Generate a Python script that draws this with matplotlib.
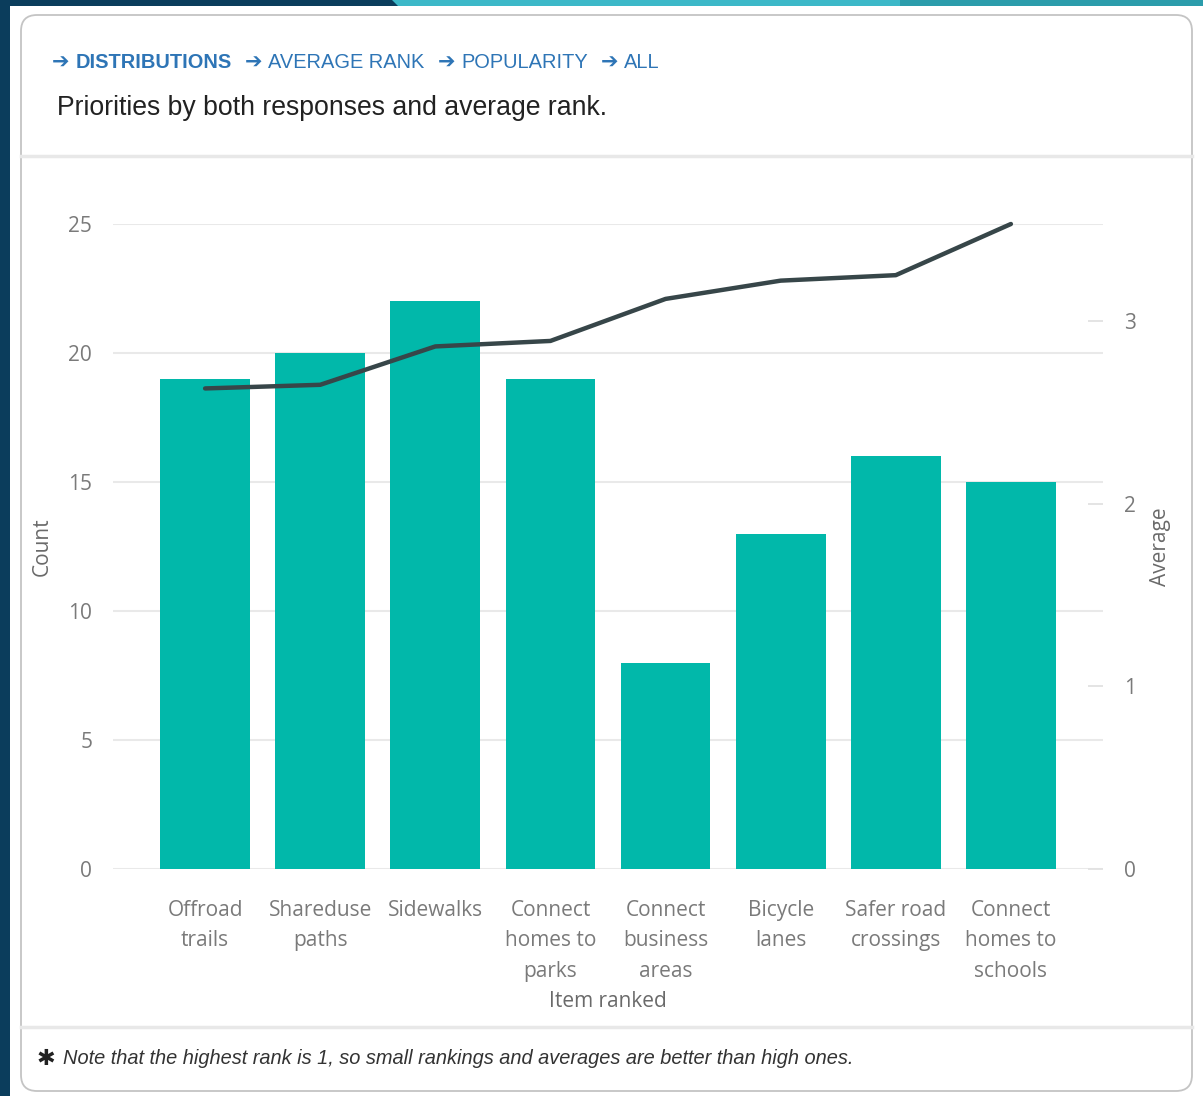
import numpy as np
import matplotlib
matplotlib.use('Agg')
import matplotlib.pyplot as plt
from matplotlib.patches import FancyBboxPatch, Rectangle, Polygon

# chart data
items = ['Offroad\ntrails', 'Shareduse\npaths', 'Sidewalks', 'Connect\nhomes to\nparks',
         'Connect\nbusiness\nareas', 'Bicycle\nlanes', 'Safer road\ncrossings',
         'Connect\nhomes to\nschools']
counts = [19, 20, 22, 19, 8, 13, 16, 15]
avg_rank = [2.63, 2.65, 2.86, 2.89, 3.12, 3.22, 3.25, 3.53]
count_ticks = [0, 5, 10, 15, 20, 25]
avg_ticks = [0, 1, 2, 3]
crumbs = ['DISTRIBUTIONS', 'AVERAGE RANK', 'POPULARITY', 'ALL']
title = 'Priorities by both responses and average rank.'
note = 'Note that the highest rank is 1, so small rankings and averages are better than high ones.'

W, H = 1203, 1096
teal = '#01b8aa'
linec = '#374649'
grey_txt = '#7a7a7a'
navy = '#0b3d5c'
blue = '#2e75b6'
sans = ['Open Sans', 'DejaVu Sans']
arial = ['Liberation Sans', 'DejaVu Sans']

fig = plt.figure(figsize=(W/100, H/100), dpi=100)
fig.patch.set_facecolor('white')

# background / card drawn in pixel units
bg = fig.add_axes([0, 0, 1, 1], zorder=0)
bg.set_xlim(0, W)
bg.set_ylim(H, 0)
bg.axis('off')
bg.add_patch(Rectangle((0, 0), 10, H, color=navy, lw=0))
bg.add_patch(Rectangle((0, 0), 400, 6, color=navy, lw=0))
bg.add_patch(Polygon([[392, 0], [1203, 0], [1203, 6], [398, 6]], closed=True, color='#3cb8c8', lw=0))
bg.add_patch(Polygon([[900, 0], [1203, 0], [1203, 6], [900, 6]], closed=True, color='#2b9cab', lw=0))
card = FancyBboxPatch((21, 15), 1171, 1076, boxstyle='round,pad=0,rounding_size=16',
                      facecolor='white', edgecolor='#c4c4c4', lw=1.3)
bg.add_patch(card)
bg.plot([21, 1192], [156, 156], color='#e8e8e8', lw=2.5)
bg.plot([21, 1192], [1027, 1027], color='#e8e8e8', lw=2.5)

# breadcrumbs
arrow_x = [52, 245, 438, 601]
text_x = [76, 268, 461, 624]
for i, c in enumerate(crumbs):
    bg.text(arrow_x[i], 63, '\u2794', color=blue, fontsize=15, va='center', ha='left',
            family=['DejaVu Sans'], fontweight='bold')
    bg.text(text_x[i], 63, c, color=blue, fontsize=14.4, va='center', ha='left',
            family=arial, fontweight='bold' if i == 0 else 'normal')
bg.text(57, 108, title, color='#222222', fontsize=19.2, va='center', ha='left', family=arial)
bg.text(37, 1059, '\u2731', color='#222222', fontsize=16, va='center', ha='left',
        family=['DejaVu Sans'], fontweight='bold')
bg.text(63, 1059, note, color='#333333', fontsize=14.4, va='center', ha='left',
        style='italic', family=arial)

# main chart
x = np.arange(len(items))
ax = fig.add_axes([113/W, (H-869)/H, 990/W, (869-224)/H], zorder=2)
ax.patch.set_alpha(0)
ax.bar(x, counts, width=0.78, color=teal, zorder=2)
ax.set_xlim(-0.8, 7.8)
ax.set_ylim(0, 25)
ax.set_yticks(count_ticks)
ax.grid(axis='y', color='#e9e9e9', lw=1.5, zorder=0)
ax.set_axisbelow(True)
for s in ax.spines.values():
    s.set_visible(False)
ax.set_xticks(x)
ax.set_xticklabels(items, linespacing=1.62)
ax.tick_params(axis='x', length=0, pad=22, labelsize=15, labelcolor=grey_txt)
ax.tick_params(axis='y', length=0, pad=15, labelsize=15, labelcolor=grey_txt)
for lab in ax.get_xticklabels() + ax.get_yticklabels():
    lab.set_family(sans)
ax.set_xlabel('Item ranked', fontsize=15, color='#6a6a6a', family=sans, labelpad=6)
ax.set_ylabel('Count', fontsize=15, color='#6a6a6a', family=sans, labelpad=11)

ax2 = ax.twinx()
ax2.plot(x, avg_rank, color=linec, lw=3.2, solid_capstyle='round', zorder=3, clip_on=False)
ax2.set_ylim(0, 3.53)
ax2.set_yticks(avg_ticks)
for s in ax2.spines.values():
    s.set_visible(False)
ax2.tick_params(axis='y', direction='in', length=11, width=1.3, color='#e2e2e2',
                pad=15, labelsize=15, labelcolor=grey_txt)
for lab in ax2.get_yticklabels():
    lab.set_family(sans)
ax2.set_ylabel('Average', fontsize=15, color='#6a6a6a', family=sans, labelpad=10)

fig.savefig('out.png', dpi=100, facecolor='white')
